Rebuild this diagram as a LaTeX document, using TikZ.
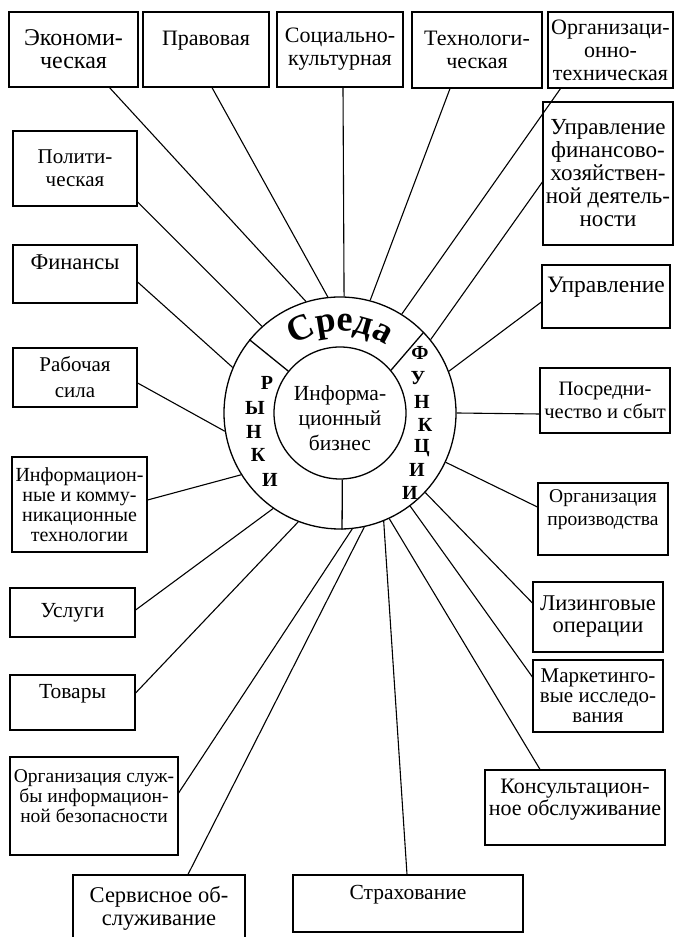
\documentclass[tikz,border=0pt]{standalone}
\usepackage{fontspec}
\setmainfont{Liberation Serif}
\usetikzlibrary{decorations.text}

\tikzset{
	box/.style={draw, line width=1.2pt, align=center, inner sep=2pt},
	sz/.style={font=\fontsize{#1pt}{23pt}\selectfont},
	tight/.style={font=\fontsize{#1pt}{20pt}\selectfont},
	link/.style={line width=1.1pt},
	rim/.style={line width=1.3pt},
	ltr/.style={inner sep=0pt, font=\fontsize{20pt}{20pt}\selectfont\bfseries}
}

\begin{document}
\begin{tikzpicture}[x=1pt, y=1pt]
	\useasboundingbox (0,0) rectangle (681,937);
	% kernel
	\node[circle, draw, rim, minimum size=232pt, inner sep=0pt] (ring) at (340,524) {};
	\node[circle, draw, rim, minimum size=132pt, inner sep=0pt] (core) at (340,524) {};
	\node[align=center, font=\fontsize{21.5pt}{25pt}\selectfont] (biz) at (340,519) {Информа-\\ционный\\бизнес};
	\draw[rim] (core.141.5) -- (ring.141.5);
	\draw[rim] (core.40) -- (ring.44);
	\draw[rim] (core.272) -- (ring.271);
	\path[decorate, decoration={text along path, text align=center,
		text={|\fontsize{36pt}{36pt}\selectfont\bfseries|Среда}}]
		(ring.center) ++(150:82) arc[start angle=150, end angle=30, radius=82];
	\foreach \ch/\x/\y [count=\i] in {Р/267/554, Ы/255/529, Н/254/505, К/258/482, И/270/457}
		\node[ltr] (mk\i) at (\x,\y) {\ch};
	\foreach \ch/\x/\y [count=\i] in {Ф/420/584, У/418/559, Н/422/535, К/425/512, Ц/422/489, И/417/467, И/410/444}
		\node[ltr] (fn\i) at (\x,\y) {\ch};
	% top row
	\node[box, sz=24, minimum width=129pt, minimum height=75pt] (econ) at (73.5,887.5) {Экономи-\\ческая};
	\node[box, sz=22, minimum width=126pt, minimum height=75pt] (prav) at (206,887.5) {Правовая\\\mbox{}};
	\node[box, sz=22, minimum width=126pt, minimum height=75pt] (soc) at (340,887.5) {Социально-\\культурная};
	\node[box, sz=22, minimum width=130pt, minimum height=76pt] (tech) at (477,887) {Технологи-\\ческая};
	\node[box, sz=22, minimum width=125pt, minimum height=76pt] (orgtech) at (610.5,887) {Организаци-\\онно-\\техническая};
	% left column
	\node[box, sz=21, minimum width=124pt, minimum height=75pt] (polit) at (75,768.5) {Полити-\\ческая};
	\node[box, sz=22.5, minimum width=124pt, minimum height=58pt] (fin) at (75,663) {Финансы\\\mbox{}};
	\node[box, font=\fontsize{21pt}{26pt}\selectfont, minimum width=124pt, minimum height=59pt] (rab) at (75,559.5) {Рабочая\\сила};
	\node[box, tight=20, minimum width=135pt, minimum height=95pt] (info) at (79.5,432.5) {Информацион-\\ные и комму-\\никационные\\технологии};
	\node[box, sz=21.5, minimum width=125pt, minimum height=49pt] (usl) at (72.5,324.5) {Услуги};
	\node[box, sz=21.5, minimum width=125pt, minimum height=55pt] (tov) at (72.5,234.5) {Товары\\\mbox{}};
	\node[box, tight=19.5, minimum width=168pt, minimum height=98pt] (orgsl) at (94,131) {Организация служ-\\бы информацион-\\ной безопасности\\\mbox{}};
	% bottom row
	\node[box, sz=22.5, minimum width=172pt, minimum height=66pt] (serv) at (159,29) {Сервисное об-\\служивание};
	\node[box, sz=21.5, minimum width=230pt, minimum height=57pt] (strah) at (408,33.5) {Страхование\\\mbox{}};
	% right column
	\node[box, sz=23, minimum width=130pt, minimum height=143pt] (finhoz) at (608,763.5) {Управление\\финансово-\\хозяйствен-\\ной деятель-\\ности};
	\node[box, sz=23.5, minimum width=128pt, minimum height=63pt] (upr) at (606,640.5) {Управление\\\mbox{}};
	\node[box, sz=20.5, minimum width=130pt, minimum height=65pt] (posr) at (605,536.5) {Посредни-\\чество и сбыт};
	\node[box, sz=19.5, minimum width=130pt, minimum height=72pt] (orgpr) at (603,418) {Организация\\производства\\\mbox{}};
	\node[box, font=\fontsize{22.5pt}{22pt}\selectfont, minimum width=130pt, minimum height=70pt] (lizing) at (598,320) {Лизинговые\\операции};
	\node[box, tight=21, minimum width=130pt, minimum height=72pt] (market) at (598,241) {Маркетинго-\\вые исследо-\\вания};
	\node[box, tight=22, minimum width=180pt, minimum height=75pt] (konsult) at (575,129.5) {Консультацион-\\ное обслуживание\\\mbox{}};
	% connectors
	\draw[link] ([xshift=36pt]econ.south) -- (ring.107.5);
	\draw[link] ([xshift=6pt]prav.south) -- (ring.96);
	\draw[link] ([xshift=3pt]soc.south) -- (ring.88.5);
	\draw[link] ([xshift=-27pt]tech.south) -- (ring.75);
	\draw[link] ([xshift=-50pt]orgtech.south) -- (ring.58.5);
	\draw[link] ([yshift=-33.5pt]polit.east) -- (ring.132.5);
	\draw[link] ([yshift=-8pt]fin.east) -- (ring.157.5);
	\draw[link] ([yshift=-5.5pt]rab.east) -- (ring.189.5);
	\draw[link] ([yshift=4.5pt]info.east) -- (ring.212.5);
	\draw[link] ([yshift=2.5pt]usl.east) -- (ring.235);
	\draw[link] ([yshift=9.5pt]tov.east) -- (ring.249.5);
	\draw[link] ([yshift=13pt]orgsl.east) -- (ring.276);
	\draw[link] ([xshift=29pt]serv.north) -- (ring.282);
	\draw[link] ([xshift=-1pt]strah.north) -- (ring.292);
	\draw[link] ([xshift=-35pt]konsult.north) -- (ring.295.5);
	\draw[link] ([yshift=19pt]market.west) -- (ring.307.5);
	\draw[link] ([yshift=14pt]lizing.west) -- (ring.317.5);
	\draw[link] ([yshift=12pt]orgpr.west) -- (ring.335.5);
	\draw[link] ([yshift=-13.5pt]posr.west) -- (ring.0);
	\draw[link] ([yshift=-5.5pt]upr.west) -- (ring.21.5);
	\draw[link] ([yshift=-8.5pt]finhoz.west) -- (ring.39.5);
\end{tikzpicture}
\end{document}
